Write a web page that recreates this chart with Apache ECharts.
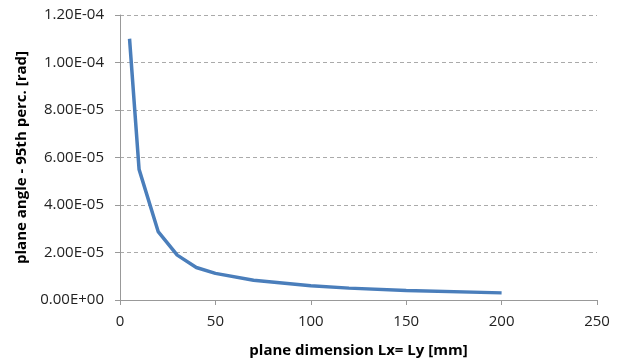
<!DOCTYPE html>
<html>
<head>
<meta charset="utf-8">
<script src="https://cdn.jsdelivr.net/npm/echarts@6/dist/echarts.min.js"></script>
<style>
  html, body { margin: 0; padding: 0; background: #fff; }
  #main { width: 623px; height: 363px; }
</style>
</head>
<body>
<div id="main"></div>
<script>
// plane dimension Lx = Ly [mm]
var dims = [5, 10, 20, 30, 40, 50, 70, 100, 120, 150, 200];
// plane angle, 95th percentile [rad]
var angles = [1.10e-4, 5.50e-5, 2.88e-5, 1.89e-5, 1.37e-5, 1.12e-5, 8.3e-6, 6.0e-6, 5.0e-6, 4.0e-6, 3.0e-6];

var yMin = 0, yMax = 1.2e-4, yStep = 2e-5;
var xMin = 0, xMax = 250, xStep = 50;

function sciLabel(v) {
    if (Math.abs(v) < 1e-12) return '0.00E+00';
    var s = v.toExponential(2).toUpperCase();
    var parts = s.split('E');
    var exp = parseInt(parts[1], 10);
    var sign = exp < 0 ? '-' : '+';
    var e = Math.abs(exp);
    return parts[0] + 'E' + sign + (e < 10 ? '0' + e : e);
}

var myChart = echarts.init(document.getElementById('main'));
var font = '"Open Sans", sans-serif';

myChart.setOption({
    animation: false,
    grid: {
        left: 120,
        right: 26,
        top: 15,
        bottom: 63
    },
    xAxis: {
        type: 'value',
        min: xMin,
        max: xMax,
        interval: xStep,
        name: 'plane dimension Lx= Ly [mm]',
        nameLocation: 'middle',
        nameGap: 43,
        nameTextStyle: { fontFamily: font, fontSize: 15, fontWeight: 'bold', color: '#000' },
        axisLine: { show: true, lineStyle: { color: '#999', width: 1 } },
        axisTick: { show: true, inside: false, length: 5, lineStyle: { color: '#999' } },
        axisLabel: { fontFamily: font, fontSize: 15, color: '#222', margin: 14 },
        splitLine: { show: false }
    },
    yAxis: {
        type: 'value',
        min: yMin,
        max: yMax,
        interval: yStep,
        name: 'plane angle - 95th perc. [rad]',
        nameLocation: 'middle',
        nameGap: 90,
        nameRotate: 90,
        nameTextStyle: { fontFamily: font, fontSize: 15, fontWeight: 'bold', color: '#000' },
        axisLine: { show: true, lineStyle: { color: '#999', width: 1 } },
        axisTick: { show: true, inside: false, length: 5, lineStyle: { color: '#999' } },
        axisLabel: { fontFamily: font, fontSize: 15, color: '#222', margin: 16, formatter: sciLabel },
        splitLine: { show: true, lineStyle: { color: '#aaa', type: [4, 3], width: 1 } }
    },
    series: [{
        type: 'line',
        data: dims.map(function (d, i) { return [d, angles[i]]; }),
        showSymbol: false,
        lineStyle: { color: '#4a7ebb', width: 3.5 },
        itemStyle: { color: '#4a7ebb' }
    }]
});
</script>
</body>
</html>
